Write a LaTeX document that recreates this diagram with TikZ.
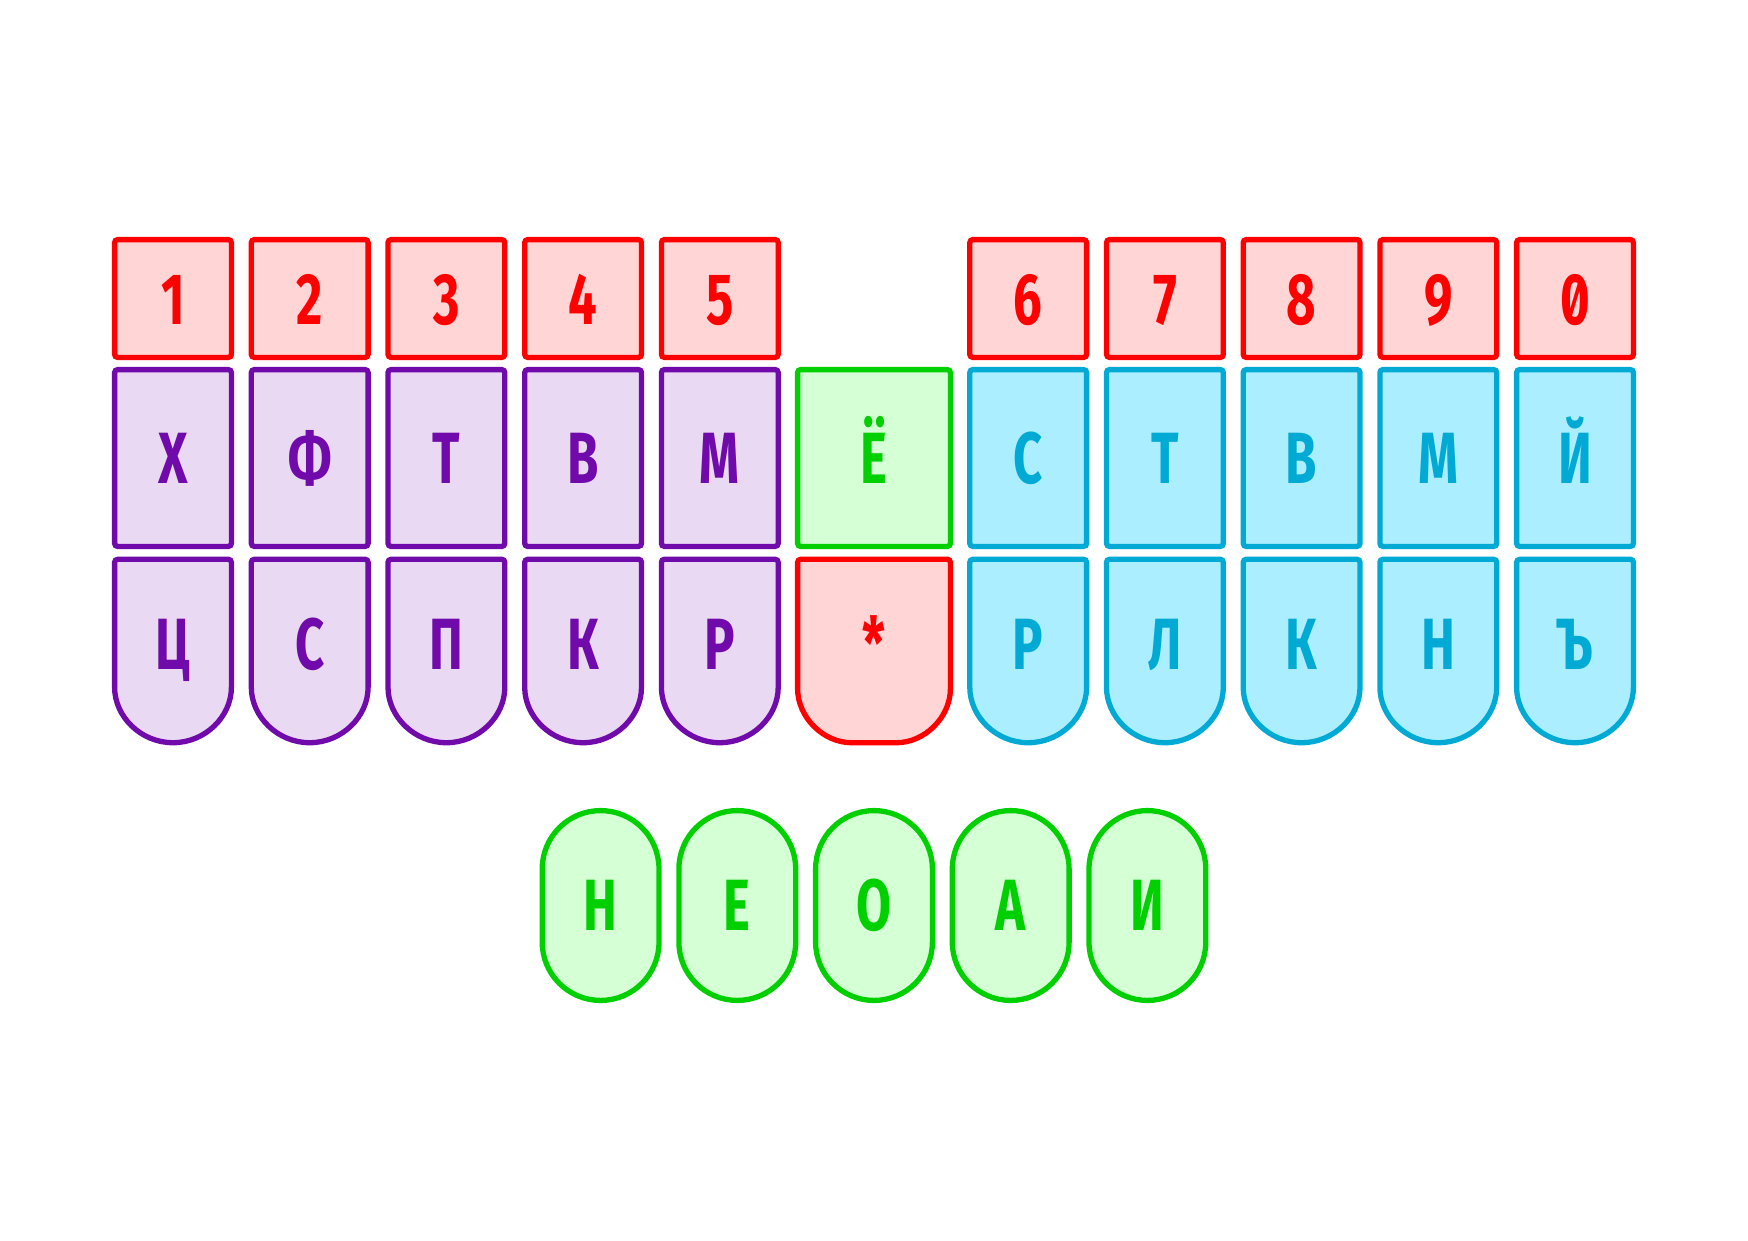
\documentclass[tikz,border=0pt]{standalone}
\usepackage{fontspec}
\setmainfont{Fira Sans}[FakeStretch=0.7,RawFeature={+zero}]
\usepackage{tikz}
\usetikzlibrary{calc}
\definecolor{keyred}{HTML}{FF0000}
\definecolor{keyredfill}{HTML}{FFD5D5}
\definecolor{keyviolet}{HTML}{710AAB}
\definecolor{keyvioletfill}{HTML}{E9D9F2}
\definecolor{keygreen}{HTML}{00D000}
\definecolor{keygreenfill}{HTML}{D5FFD5}
\definecolor{keycyan}{HTML}{00AAD4}
\definecolor{keycyanfill}{HTML}{AAEEFF}
\tikzset{
	redkey/.style={draw=keyred, fill=keyredfill, line width=5.3pt},
	violetkey/.style={draw=keyviolet, fill=keyvioletfill, line width=5.3pt},
	greenkey/.style={draw=keygreen, fill=keygreenfill, line width=5.3pt},
	cyankey/.style={draw=keycyan, fill=keycyanfill, line width=5.3pt},
	keytext/.style={anchor=base, inner sep=0pt, font=\fontsize{72.6}{80}\selectfont\bfseries}
}
\def\numkey[#1](#2){\draw[#1,shift={(#2)},rounded corners=3pt] (-58.4,-58.9) rectangle (58.4,58.9);}
\def\midkey[#1](#2){\draw[#1,shift={(#2)},rounded corners=3pt] (-58.4,-88.4) rectangle (58.4,88.4);}
\def\lowkey[#1](#2){\draw[#1,shift={(#2)},rounded corners=3pt] (-58.4,61) -- (-58.4,0) -- (58.4,0) -- (58.4,125) arc (0:180:58.4) -- cycle;}
\def\thumbkey[#1](#2){\draw[#1,shift={(#2)},rounded corners=58.3pt] (-58.4,-94.9) rectangle (58.4,94.9);}

\begin{document}
\begin{tikzpicture}[x=1pt,y=-1pt]
			%%%%% START %%%%%
			\useasboundingbox (0,0) rectangle (1748,1240);
			
			% number row
			\numkey[redkey](173,298.5)
			\numkey[redkey](309.7,298.5)
			\numkey[redkey](446.4,298.5)
			\numkey[redkey](583.1,298.5)
			\numkey[redkey](719.8,298.5)
			\numkey[redkey](1028.2,298.5)
			\numkey[redkey](1164.9,298.5)
			\numkey[redkey](1301.6,298.5)
			\numkey[redkey](1438.3,298.5)
			\numkey[redkey](1575,298.5)
			\node[keytext, text=keyred] (num1) at (173,324) {1};
			\node[keytext, text=keyred] (num2) at (309.7,324) {2};
			\node[keytext, text=keyred] (num3) at (446.4,324) {3};
			\node[keytext, text=keyred] (num4) at (583.1,324) {4};
			\node[keytext, text=keyred] (num5) at (719.8,324) {5};
			\node[keytext, text=keyred] (num6) at (1028.2,324) {6};
			\node[keytext, text=keyred] (num7) at (1164.9,324) {7};
			\node[keytext, text=keyred] (num8) at (1301.6,324) {8};
			\node[keytext, text=keyred] (num9) at (1438.3,324) {9};
			\node[keytext, text=keyred] (num0) at (1575,324) {0};
			
			% upper row
			\midkey[violetkey](173,458)
			\midkey[violetkey](309.7,458)
			\midkey[violetkey](446.4,458)
			\midkey[violetkey](583.1,458)
			\midkey[violetkey](719.8,458)
			\draw[greenkey, rounded corners=3pt] (797.6,369.6) rectangle (950.4,546.4);
			\midkey[cyankey](1028.2,458)
			\midkey[cyankey](1164.9,458)
			\midkey[cyankey](1301.6,458)
			\midkey[cyankey](1438.3,458)
			\midkey[cyankey](1575,458)
			\node[keytext, text=keyviolet] (lt1) at (173,483) {Х};
			\node[keytext, text=keyviolet] (lt2) at (309.7,483) {Ф};
			\node[keytext, text=keyviolet] (lt3) at (446.4,483) {Т};
			\node[keytext, text=keyviolet] (lt4) at (583.1,483) {В};
			\node[keytext, text=keyviolet] (lt5) at (719.8,483) {М};
			\node[keytext, text=keygreen] (yo) at (874,483) {Ё};
			\node[keytext, text=keycyan] (rt1) at (1028.2,483) {С};
			\node[keytext, text=keycyan] (rt2) at (1164.9,483) {Т};
			\node[keytext, text=keycyan] (rt3) at (1301.6,483) {В};
			\node[keytext, text=keycyan] (rt4) at (1438.3,483) {М};
			\node[keytext, text=keycyan] (rt5) at (1575,483) {Й};
			
			% lower row
			\lowkey[violetkey](173,559.3)
			\lowkey[violetkey](309.7,559.3)
			\lowkey[violetkey](446.4,559.3)
			\lowkey[violetkey](583.1,559.3)
			\lowkey[violetkey](719.8,559.3)
			\draw[redkey, shift={(874,559.3)}, rounded corners=3pt] (-76.4,61) -- (-76.4,0) -- (76.4,0) -- (76.4,126.4) arc (0:90:57) -- (-19.4,183.4) arc (90:180:57) -- cycle;
			\lowkey[cyankey](1028.2,559.3)
			\lowkey[cyankey](1164.9,559.3)
			\lowkey[cyankey](1301.6,559.3)
			\lowkey[cyankey](1438.3,559.3)
			\lowkey[cyankey](1575,559.3)
			\node[keytext, text=keyviolet] (lb1) at (173,669) {Ц};
			\node[keytext, text=keyviolet] (lb2) at (309.7,669) {С};
			\node[keytext, text=keyviolet] (lb3) at (446.4,669) {П};
			\node[keytext, text=keyviolet] (lb4) at (583.1,669) {К};
			\node[keytext, text=keyviolet] (lb5) at (719.8,669) {Р};
			\node[keytext, text=keyred] (star) at (874,669) {*};
			\node[keytext, text=keycyan] (rb1) at (1028.2,669) {Р};
			\node[keytext, text=keycyan] (rb2) at (1164.9,669) {Л};
			\node[keytext, text=keycyan] (rb3) at (1301.6,669) {К};
			\node[keytext, text=keycyan] (rb4) at (1438.3,669) {Н};
			\node[keytext, text=keycyan] (rb5) at (1575,669) {Ъ};
			
			% thumbs
			\thumbkey[greenkey](600.6,905.5)
			\thumbkey[greenkey](737.3,905.5)
			\thumbkey[greenkey](874,905.5)
			\thumbkey[greenkey](1010.7,905.5)
			\thumbkey[greenkey](1147.4,905.5)
			\node[keytext, text=keygreen] (th1) at (600.6,930) {Н};
			\node[keytext, text=keygreen] (th2) at (737.3,930) {Е};
			\node[keytext, text=keygreen] (th3) at (874,930) {О};
			\node[keytext, text=keygreen] (th4) at (1010.7,930) {А};
			\node[keytext, text=keygreen] (th5) at (1147.4,930) {И};
			
			%%%%% END %%%%%
\end{tikzpicture}
\end{document}
